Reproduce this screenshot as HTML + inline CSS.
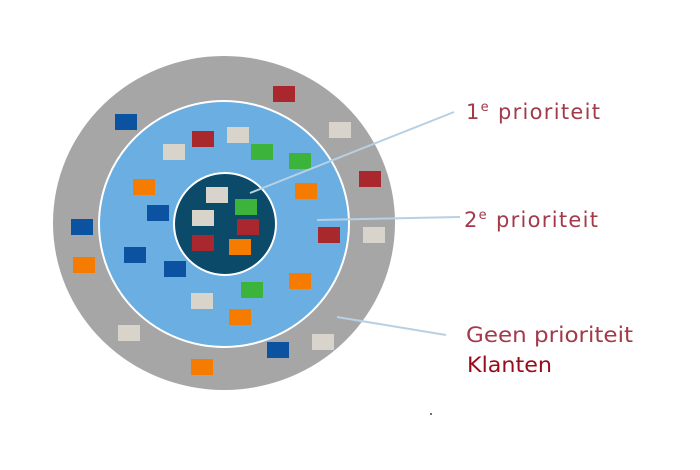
<!DOCTYPE html>
<html><head><style>html,body{margin:0;padding:0;background:#fff;}svg{display:block}</style></head>
<body>
<svg width="700" height="470" viewBox="0 0 700 470" xmlns="http://www.w3.org/2000/svg">
<ellipse cx="224" cy="223" rx="171" ry="167" fill="#a6a6a6"/>
<ellipse cx="224" cy="224" rx="125" ry="123" fill="#6aaee2" stroke="#fff" stroke-width="2"/>
<circle cx="225" cy="224" r="51" fill="#0c4a6a" stroke="#fff" stroke-width="2"/>
<g>
<rect x="273" y="86" width="22" height="16" fill="#a8282e"/>
<rect x="115" y="114" width="22" height="16" fill="#0b52a0"/>
<rect x="329" y="122" width="22" height="16" fill="#d8d4cc"/>
<rect x="359" y="171" width="22" height="16" fill="#a8282e"/>
<rect x="71" y="219" width="22" height="16" fill="#0b52a0"/>
<rect x="363" y="227" width="22" height="16" fill="#d8d4cc"/>
<rect x="73" y="257" width="22" height="16" fill="#f57c00"/>
<rect x="118" y="325" width="22" height="16" fill="#d8d4cc"/>
<rect x="312" y="334" width="22" height="16" fill="#d8d4cc"/>
<rect x="267" y="342" width="22" height="16" fill="#0b52a0"/>
<rect x="191" y="359" width="22" height="16" fill="#f57c00"/>
<rect x="192" y="131" width="22" height="16" fill="#a8282e"/>
<rect x="227" y="127" width="22" height="16" fill="#d8d4cc"/>
<rect x="163" y="144" width="22" height="16" fill="#d8d4cc"/>
<rect x="251" y="144" width="22" height="16" fill="#3cb43c"/>
<rect x="289" y="153" width="22" height="16" fill="#3cb43c"/>
<rect x="133" y="179" width="22" height="16" fill="#f57c00"/>
<rect x="295" y="183" width="22" height="16" fill="#f57c00"/>
<rect x="147" y="205" width="22" height="16" fill="#0b52a0"/>
<rect x="318" y="227" width="22" height="16" fill="#a8282e"/>
<rect x="124" y="247" width="22" height="16" fill="#0b52a0"/>
<rect x="164" y="261" width="22" height="16" fill="#0b52a0"/>
<rect x="289" y="273" width="22" height="16" fill="#f57c00"/>
<rect x="241" y="282" width="22" height="16" fill="#3cb43c"/>
<rect x="191" y="293" width="22" height="16" fill="#d8d4cc"/>
<rect x="229" y="309" width="22" height="16" fill="#f57c00"/>
<rect x="206" y="187" width="22" height="16" fill="#d8d4cc"/>
<rect x="235" y="199" width="22" height="16" fill="#3cb43c"/>
<rect x="192" y="210" width="22" height="16" fill="#d8d4cc"/>
<rect x="237" y="219" width="22" height="16" fill="#a8282e"/>
<rect x="192" y="235" width="22" height="16" fill="#a8282e"/>
<rect x="229" y="239" width="22" height="16" fill="#f57c00"/>
</g>
<g stroke="#b8d0e4" stroke-width="2">
<line x1="250" y1="193" x2="454" y2="112"/>
<line x1="317" y1="220" x2="460" y2="217"/>
<line x1="337" y1="317" x2="446" y2="335"/>
</g>
<g font-family="'DejaVu Sans', sans-serif" fill="#a33a4a" font-size="21">
<text x="466" y="119" letter-spacing="1.3">1<tspan font-size="13" dy="-8">e</tspan><tspan dy="8"> prioriteit</tspan></text>
<text x="464" y="227" letter-spacing="1.3">2<tspan font-size="13" dy="-8">e</tspan><tspan dy="8"> prioriteit</tspan></text>
<text x="466" y="342" textLength="167" lengthAdjust="spacingAndGlyphs">Geen prioriteit</text>
<text x="467" y="372" fill="#990a1a" textLength="85" lengthAdjust="spacingAndGlyphs">Klanten</text>
</g>
<circle cx="431" cy="414" r="1" fill="#444"/>
</svg>
</body></html>
